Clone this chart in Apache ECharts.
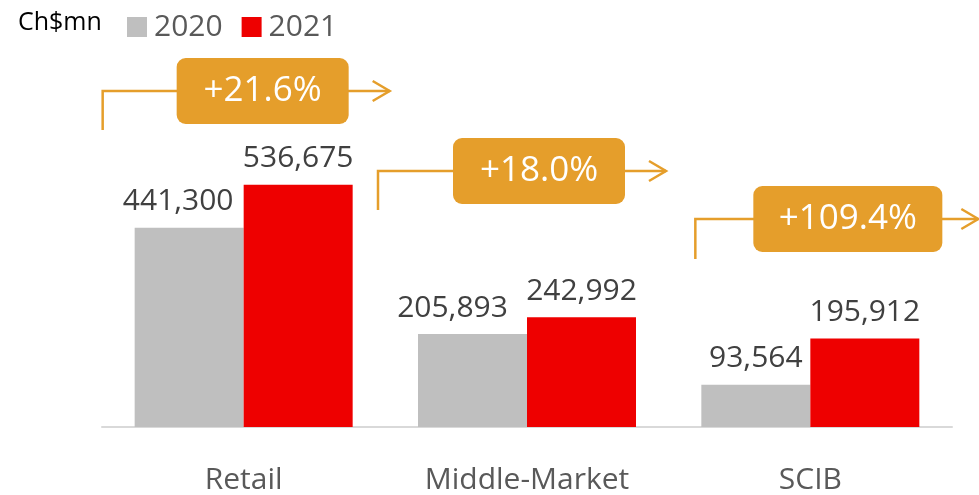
<!DOCTYPE html>
<html>
<head>
<meta charset="utf-8">
<script src="https://cdn.jsdelivr.net/npm/echarts@6/dist/echarts.min.js"></script>
<style>
  html, body { margin: 0; padding: 0; background: #ffffff; }
  #chart { width: 979px; height: 495px; }
</style>
</head>
<body>
<div id="chart"></div>
<script>
// Loan book by segment, Ch$mn
const categories = ['Retail', 'Middle-Market', 'SCIB'];
const seriesNames = ['2020', '2021'];
const values2020 = [441300, 205893, 93564];
const values2021 = [536675, 242992, 195912];
const unitLabel = 'Ch$mn';

// Horizontal nudges for the 2020 value labels (px)
const label2020OffsetX = [-11, -20, 0];

// Growth callouts: offsets (px) from each category centre, and vertical level (px)
const calloutLayout = [
  { lineX: -141, lineY: 91,  stem: 39, boxL: -67, boxR: 105, tip: 146 },
  { lineX: -149, lineY: 171, stem: 39, boxL: -74, boxR: 98,  tip: 139 },
  { lineX: -115, lineY: 219, stem: 40, boxL: -57, boxR: 132, tip: 168 }
];

const GREY = '#bfbfbf';
const RED = '#ee0000';
const ORANGE = '#e59e2b';
const FONT = 'Open Sans';

const fmt = v => v.toLocaleString('en-US');
const growth = categories.map((c, i) => {
  const g = (values2021[i] / values2020[i] - 1) * 100;
  return '+' + g.toFixed(1) + '%';
});

const chart = echarts.init(document.getElementById('chart'), null, { renderer: 'canvas' });

const valueLabel = {
  show: true,
  position: 'top',
  distance: 11,
  fontFamily: FONT,
  fontSize: 30,
  color: '#404040',
  formatter: p => fmt(p.value)
};

chart.setOption({
  animation: false,
  textStyle: { fontFamily: FONT },
  title: {
    text: unitLabel,
    left: 13,
    top: 5,
    textStyle: { fontFamily: FONT, fontSize: 25, fontWeight: 'normal', color: '#000000' }
  },
  legend: {
    data: seriesNames,
    left: 122,
    top: 7,
    icon: 'rect',
    itemWidth: 20,
    itemHeight: 20,
    itemGap: 19,
    textStyle: { fontFamily: FONT, fontSize: 30, color: '#595959', padding: [0, 0, 0, 2] }
  },
  grid: { left: 102, right: 27, top: 66, bottom: 67, containLabel: false },
  xAxis: {
    type: 'category',
    data: categories,
    axisLine: { lineStyle: { color: '#d9d9d9', width: 2 } },
    axisTick: { show: false },
    axisLabel: { fontFamily: FONT, fontSize: 30, color: '#595959', margin: 38 }
  },
  yAxis: {
    type: 'value',
    min: 0,
    max: 800000,
    show: false,
    splitLine: { show: false }
  },
  series: [
    {
      name: seriesNames[0],
      type: 'bar',
      barWidth: 109,
      barGap: '0%',
      itemStyle: { color: GREY },
      data: values2020.map((v, i) => ({
        value: v,
        label: Object.assign({}, valueLabel, { offset: [label2020OffsetX[i], 0] })
      }))
    },
    {
      name: seriesNames[1],
      type: 'bar',
      barWidth: 109,
      barGap: '0%',
      itemStyle: { color: RED },
      label: valueLabel,
      data: values2021
    }
  ]
});

// Growth callouts: bracket line with arrow, and a rounded tag on top
function drawCallouts() {
  const elements = [];
  categories.forEach((cat, i) => {
    const cx = chart.convertToPixel({ xAxisIndex: 0 }, cat);
    const L = calloutLayout[i];
    const x0 = cx + L.lineX;
    const y = L.lineY;
    const tipX = cx + L.tip;
    const lineStyle = { stroke: ORANGE, lineWidth: 2.5, fill: null, lineCap: 'butt', lineJoin: 'miter' };
    elements.push({
      type: 'polyline',
      shape: { points: [[x0, y + L.stem], [x0, y], [tipX, y]] },
      style: lineStyle,
      silent: true
    });
    elements.push({
      type: 'polyline',
      shape: { points: [[tipX - 17, y - 10], [tipX, y], [tipX - 17, y + 10]] },
      style: lineStyle,
      silent: true
    });
    const bx = cx + L.boxL;
    const bw = L.boxR - L.boxL;
    const bh = 66;
    elements.push({
      type: 'rect',
      shape: { x: bx, y: y - bh / 2, width: bw, height: bh, r: 9 },
      style: { fill: ORANGE },
      silent: true
    });
    elements.push({
      type: 'text',
      x: bx + bw / 2,
      y: y,
      style: {
        text: growth[i],
        fill: '#ffffff',
        font: 'normal 35px "' + FONT + '"',
        align: 'center',
        verticalAlign: 'middle'
      },
      silent: true
    });
  });
  chart.setOption({ graphic: elements });
}
drawCallouts();
</script>
</body>
</html>
